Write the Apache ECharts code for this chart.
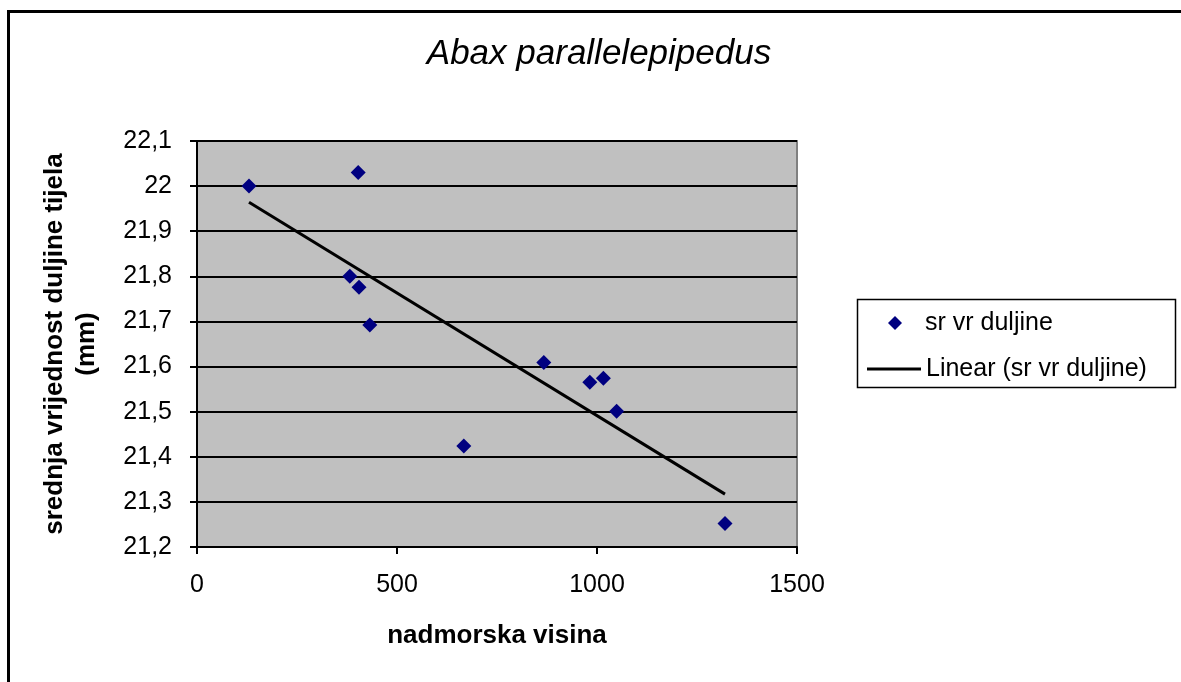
<!DOCTYPE html>
<html>
<head>
<meta charset="utf-8">
<script src="https://cdn.jsdelivr.net/npm/echarts@6/dist/echarts.min.js"></script>
<style>
  html, body { margin: 0; padding: 0; background: #fff; overflow: hidden; }
  #frame { position: absolute; left: 7px; top: 10px; width: 1300px; height: 800px; border: 3px solid #000; box-sizing: border-box; }
  #chart { position: absolute; left: 0; top: 0; width: 1181px; height: 682px; }
</style>
</head>
<body>
<div id="frame"></div>
<div id="chart"></div>
<script>
// nadmorska visina (x) i srednja vrijednost duljine tijela (y)
var altitude = [130, 403, 382, 405, 432, 667, 867, 982, 1016, 1049, 1320];
var meanLength = [22.0, 22.03, 21.8, 21.776, 21.692, 21.424, 21.609, 21.565, 21.574, 21.501, 21.252];

var points = altitude.map(function (x, i) { return [x, meanLength[i]]; });

// linearni trend (najmanji kvadrati) kroz iste točke
var n = altitude.length, sx = 0, sy = 0, sxy = 0, sxx = 0;
for (var i = 0; i < n; i++) {
  sx += altitude[i]; sy += meanLength[i];
  sxy += altitude[i] * meanLength[i]; sxx += altitude[i] * altitude[i];
}
var slope = (n * sxy - sx * sy) / (n * sxx - sx * sx);
var intercept = (sy - slope * sx) / n;
var xMin = Math.min.apply(null, altitude), xMax = Math.max.apply(null, altitude);
var trend = [[xMin, intercept + slope * xMin], [xMax, intercept + slope * xMax]];

var chart = echarts.init(document.getElementById("chart"));
var font = "Liberation Sans";
var legendText = { fontFamily: font, fontSize: 25, color: "#000", lineHeight: 30 };
var option = {
  animation: false,
  title: {
    text: "Abax parallelepipedus",
    left: 594, textAlign: "center", top: 32,
    textStyle: { fontFamily: font, fontSize: 35, fontStyle: "italic", fontWeight: "normal", color: "#000" }
  },
  legend: [
    {
      left: 888, top: 308, padding: 0,
      itemWidth: 14, itemHeight: 14,
      textStyle: Object.assign({ padding: [0, 0, 0, 18] }, legendText),
      data: [{ name: "sr vr duljine", icon: "diamond", itemStyle: { color: "#000080", opacity: 1 } }]
    },
    {
      left: 867, top: 354, padding: 0,
      itemWidth: 54, itemHeight: 3,
      textStyle: legendText,
      data: [{ name: "Linear (sr vr duljine)", icon: "rect" }]
    }
  ],
  graphic: [{
    type: "rect", left: 855, top: 297,
    shape: { width: 318, height: 88 },
    style: { fill: "none", stroke: "#000", lineWidth: 1.5 }
  }],
  grid: {
    left: 197, top: 141, right: 384, bottom: 135,
    show: true, backgroundColor: "#c0c0c0", borderColor: "#808080", borderWidth: 2
  },
  xAxis: {
    type: "value", min: 0, max: 1500, interval: 500,
    name: "nadmorska visina", nameLocation: "middle", nameGap: 76,
    nameTextStyle: { fontFamily: font, fontSize: 26, fontWeight: "bold", color: "#000" },
    axisLine: { onZero: false, lineStyle: { color: "#000", width: 2 } },
    axisTick: { show: true, inside: false, length: 7, lineStyle: { color: "#000", width: 2 } },
    axisLabel: {
      fontFamily: font, fontSize: 25, color: "#000", margin: 26,
      formatter: function (v) { return String(v); }
    },
    splitLine: { show: false }
  },
  yAxis: {
    type: "value", min: 21.2, max: 22.1, interval: 0.1,
    name: "srednja vrijednost duljine tijela\n(mm)", nameLocation: "middle", nameGap: 94,
    nameTextStyle: { fontFamily: font, fontSize: 26, fontWeight: "bold", color: "#000", lineHeight: 32 },
    axisLine: { onZero: false, lineStyle: { color: "#000", width: 2 } },
    axisTick: { show: true, inside: false, length: 7, lineStyle: { color: "#000", width: 2 } },
    axisLabel: {
      fontFamily: font, fontSize: 25, color: "#000", margin: 25,
      formatter: function (v) { return String(Math.round(v * 10) / 10).replace(".", ","); }
    },
    splitLine: { show: true, lineStyle: { color: "#000", width: 2 } }
  },
  series: [
    {
      name: "sr vr duljine",
      type: "scatter",
      symbol: "diamond",
      symbolSize: 15,
      itemStyle: { color: "#000080", opacity: 1 },
      data: points,
      z: 3
    },
    {
      name: "Linear (sr vr duljine)",
      type: "line",
      symbol: "none",
      lineStyle: { color: "#000", width: 3 },
      itemStyle: { color: "#000" },
      data: trend,
      z: 2
    }
  ]
};
chart.setOption(option);
</script>
</body>
</html>
